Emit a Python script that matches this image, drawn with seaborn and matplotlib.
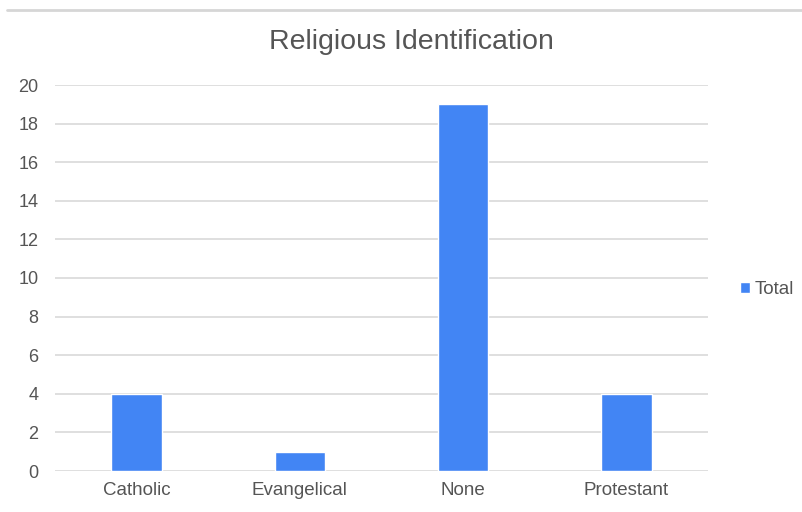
import matplotlib
matplotlib.use("Agg")
from matplotlib import pyplot as plt
from matplotlib.lines import Line2D
import seaborn as sns
import pandas as pd

categories = ["Catholic", "Evangelical", "None", "Protestant"]
totals = [4, 1, 19, 4]
series_name = "Total"
yticks = [0, 2, 4, 6, 8, 10, 12, 14, 16, 18, 20]

df = pd.DataFrame({"category": categories, "value": totals})

sns.set_style("white")
plt.rcParams['font.family'] = ['Liberation Sans', 'DejaVu Sans']

fig = plt.figure(figsize=(8.03, 5.12), dpi=100)
ax = fig.add_axes([55 / 803, 1 - 471 / 512, 653 / 803, 386 / 512])

sns.barplot(data=df, x="category", y="value", color="#4285F4", width=0.31,
            saturation=1, label=series_name, ax=ax, zorder=3)

ax.set_ylim(0, 20)
ax.set_yticks(yticks)
ax.grid(axis="y", color="#d9d9d9", linewidth=1.2, zorder=0)
for s in ax.spines.values():
    s.set_visible(False)
ax.set_xlabel("")
ax.set_ylabel("")
ax.tick_params(axis="x", length=0, labelsize=13.5, labelcolor="#555555", pad=8)
ax.tick_params(axis="y", length=0, labelsize=13, labelcolor="#555555", pad=12)

fig.text(411 / 803, 1 - 42 / 512, "Religious Identification",
         ha="center", va="center", fontsize=20.5, color="#555555")

ax.legend(loc="center left", bbox_to_anchor=(1.049, 0.47), frameon=False,
          borderaxespad=0, borderpad=0,
          handlelength=0.55, handleheight=0.55, handletextpad=0.25,
          fontsize=13.5, labelcolor="#555555")

# thin rule across the top of the image
fig.add_artist(Line2D([7 / 803, 1.0], [1 - 10 / 512, 1 - 10 / 512],
                      transform=fig.transFigure, color="#d6d6d6", linewidth=2))

fig.savefig("out.png", dpi=100, facecolor="white")
